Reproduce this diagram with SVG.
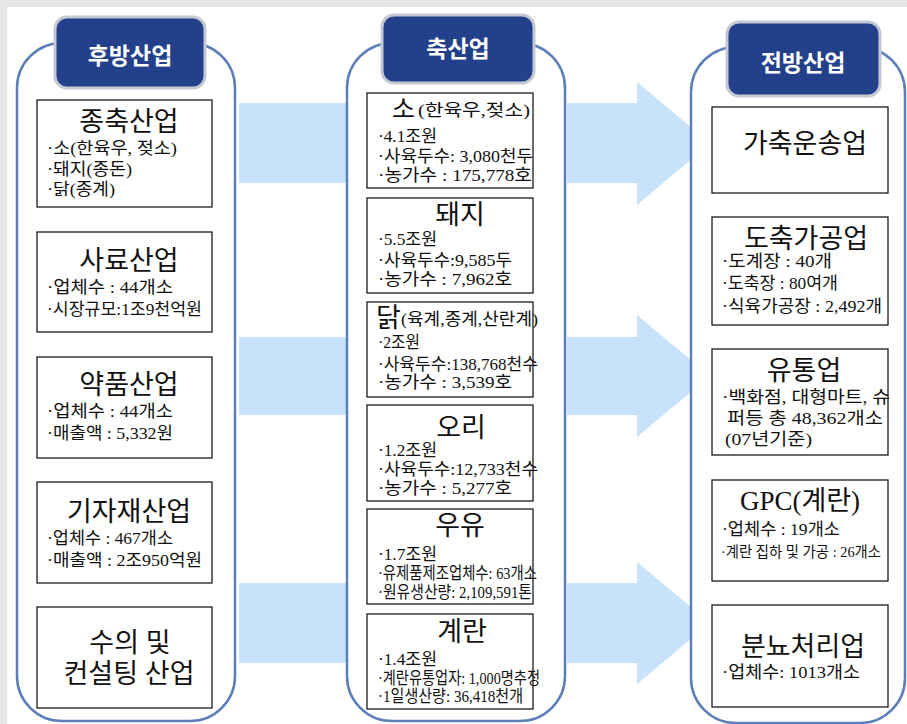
<svg xmlns="http://www.w3.org/2000/svg" width="907" height="724" viewBox="0 0 907 724">
<style>
.bg{fill:#e7e7e7}
.col{fill:#fff;stroke:#5b7fb8;stroke-width:2.5}
.hdr{fill:#23418b;stroke:#c3c8d2;stroke-width:3}
.ht{font-family:"Noto Sans CJK KR","Noto Sans",sans-serif;font-weight:bold;font-size:23px;fill:#fff;text-anchor:middle}
.box{fill:#fff;stroke:#1c1c1c;stroke-width:1.3}
.t{font-family:"Liberation Serif","Noto Sans CJK KR",serif;font-size:27px;fill:#111;text-anchor:middle}
.s{font-family:"Liberation Serif","Noto Sans CJK KR",serif;font-size:17px;fill:#111}
.arr{fill:#c9e2fb}
</style>
<rect class="bg" x="0" y="0" width="907" height="7"/>
<rect class="bg" x="0" y="0" width="7" height="724"/>

<g id="connectors">
  <polygon class="arr" points="239,103 380,103 380,82 440,143 380,205 380,183 239,183"/>
  <polygon class="arr" points="239,337 380,337 380,315 440,376 380,437 380,415 239,415"/>
  <polygon class="arr" points="239,583 380,583 380,562 440,623 380,684 380,663 239,663"/>
  <polygon class="arr" points="567,103 637,103 637,82 710,143.5 637,205 637,183 567,183"/>
  <polygon class="arr" points="567,337 637,337 637,315 710,376 637,437 637,415 567,415"/>
  <polygon class="arr" points="567,583 637,583 637,562 710,623 637,684 637,663 567,663"/>
</g>

<g id="col-back">
  <rect class="col" x="17" y="43" width="218" height="678" rx="45"/>
  <rect class="hdr" x="55" y="17" width="150" height="71" rx="12"/>
  <text class="ht" x="130" y="64">후방산업</text>
</g>
<g id="col-livestock">
  <rect class="col" x="347" y="43" width="218" height="678" rx="45"/>
  <rect class="hdr" x="382" y="15" width="152" height="68" rx="12"/>
  <text class="ht" x="458" y="57">축산업</text>
</g>
<g id="col-front">
  <rect class="col" x="691" y="47" width="214" height="676" rx="45"/>
  <rect class="hdr" x="727" y="22" width="153" height="74" rx="12"/>
  <text class="ht" x="803" y="71">전방산업</text>
</g>

<g id="b-breeding">
  <rect class="box" x="37" y="100" width="175" height="107"/>
  <text class="t" x="129" y="131">종축산업</text>
  <text class="s" x="47" y="154" textLength="130" lengthAdjust="spacingAndGlyphs">·소(한육우, 젖소)</text>
  <text class="s" x="47" y="175" textLength="85" lengthAdjust="spacingAndGlyphs">·돼지(종돈)</text>
  <text class="s" x="47" y="195" textLength="68" lengthAdjust="spacingAndGlyphs">·닭(종계)</text>
</g>
<g id="b-feed">
  <rect class="box" x="37" y="232" width="175" height="100"/>
  <text class="t" x="129" y="270">사료산업</text>
  <text class="s" x="47" y="293" textLength="126" lengthAdjust="spacingAndGlyphs">·업체수 : 44개소</text>
  <text class="s" x="47" y="315" textLength="155" lengthAdjust="spacingAndGlyphs">·시장규모:1조9천억원</text>
</g>
<g id="b-pharma">
  <rect class="box" x="37" y="357" width="175" height="101"/>
  <text class="t" x="129" y="394">약품산업</text>
  <text class="s" x="47" y="417" textLength="126" lengthAdjust="spacingAndGlyphs">·업체수 : 44개소</text>
  <text class="s" x="47" y="439" textLength="126" lengthAdjust="spacingAndGlyphs">·매출액 : 5,332원</text>
</g>
<g id="b-equipment">
  <rect class="box" x="37" y="482" width="175" height="101"/>
  <text class="t" x="129" y="521">기자재산업</text>
  <text class="s" x="47" y="544" textLength="126" lengthAdjust="spacingAndGlyphs">·업체수 : 467개소</text>
  <text class="s" x="47" y="566" textLength="155" lengthAdjust="spacingAndGlyphs">·매출액 : 2조950억원</text>
</g>
<g id="b-vet">
  <rect class="box" x="37" y="607" width="175" height="101"/>
  <text class="t" x="130" y="652">수의 및</text>
  <text class="t" x="129" y="683">컨설팅 산업</text>
</g>

<g id="m-cattle">
  <rect class="box" x="367" y="93" width="166" height="95"/>
  <text class="t" x="392" y="118" style="text-anchor:start;font-size:25px">소</text>
  <text class="s" x="418" y="116" textLength="112" lengthAdjust="spacingAndGlyphs">(한육우,젖소)</text>
  <text class="s" x="378" y="142" textLength="59" lengthAdjust="spacingAndGlyphs">·4.1조원</text>
  <text class="s" x="378" y="162" textLength="155" lengthAdjust="spacingAndGlyphs">·사육두수: 3,080천두</text>
  <text class="s" x="378" y="181" textLength="154" lengthAdjust="spacingAndGlyphs">·농가수 : 175,778호</text>
</g>
<g id="m-pig">
  <rect class="box" x="367" y="198" width="166" height="95"/>
  <text class="t" x="460" y="224">돼지</text>
  <text class="s" x="378" y="245" textLength="59" lengthAdjust="spacingAndGlyphs">·5.5조원</text>
  <text class="s" x="378" y="266" textLength="134" lengthAdjust="spacingAndGlyphs">·사육두수:9,585두</text>
  <text class="s" x="378" y="285" textLength="134" lengthAdjust="spacingAndGlyphs">·농가수 : 7,962호</text>
</g>
<g id="m-chicken">
  <rect class="box" x="367" y="302" width="166" height="95"/>
  <text class="t" x="376" y="327" style="text-anchor:start">닭</text>
  <text class="s" x="401" y="325" textLength="137" lengthAdjust="spacingAndGlyphs">(육계,종계,산란계)</text>
  <text class="s" x="378" y="348" textLength="42" lengthAdjust="spacingAndGlyphs">·2조원</text>
  <text class="s" x="378" y="370" textLength="160" lengthAdjust="spacingAndGlyphs">·사육두수:138,768천수</text>
  <text class="s" x="378" y="388" textLength="134" lengthAdjust="spacingAndGlyphs">·농가수 : 3,539호</text>
</g>
<g id="m-duck">
  <rect class="box" x="367" y="405" width="166" height="96"/>
  <text class="t" x="461" y="437">오리</text>
  <text class="s" x="378" y="456" textLength="59" lengthAdjust="spacingAndGlyphs">·1.2조원</text>
  <text class="s" x="378" y="475" textLength="160" lengthAdjust="spacingAndGlyphs">·사육두수:12,733천수</text>
  <text class="s" x="378" y="494" textLength="134" lengthAdjust="spacingAndGlyphs">·농가수 : 5,277호</text>
</g>
<g id="m-milk">
  <rect class="box" x="367" y="509" width="166" height="95"/>
  <text class="t" x="460" y="535">우유</text>
  <text class="s" x="378" y="560" textLength="59" lengthAdjust="spacingAndGlyphs">·1.7조원</text>
  <text class="s" x="378" y="579" textLength="159" lengthAdjust="spacingAndGlyphs">·유제품제조업체수: 63개소</text>
  <text class="s" x="378" y="598" textLength="154" lengthAdjust="spacingAndGlyphs">·원유생산량: 2,109,591톤</text>
</g>
<g id="m-egg">
  <rect class="box" x="367" y="614" width="166" height="95"/>
  <text class="t" x="462" y="641">계란</text>
  <text class="s" x="378" y="665" textLength="59" lengthAdjust="spacingAndGlyphs">·1.4조원</text>
  <text class="s" x="378" y="684" textLength="162" lengthAdjust="spacingAndGlyphs">·계란유통업자: 1,000명추정</text>
  <text class="s" x="378" y="702" textLength="145" lengthAdjust="spacingAndGlyphs">·1일생산량: 36,418천개</text>
</g>

<g id="f-transport">
  <rect class="box" x="712" y="107" width="176" height="86"/>
  <text class="t" x="805" y="153">가축운송업</text>
</g>
<g id="f-slaughter">
  <rect class="box" x="712" y="217" width="176" height="108"/>
  <text class="t" x="806" y="248">도축가공업</text>
  <text class="s" x="722" y="267" textLength="110" lengthAdjust="spacingAndGlyphs">·도계장 : 40개</text>
  <text class="s" x="722" y="289" textLength="116" lengthAdjust="spacingAndGlyphs">·도축장 : 80여개</text>
  <text class="s" x="722" y="312" textLength="160" lengthAdjust="spacingAndGlyphs">·식육가공장 : 2,492개</text>
</g>
<g id="f-distribution">
  <rect class="box" x="712" y="349" width="176" height="106"/>
  <text class="t" x="804" y="380">유통업</text>
  <text class="s" x="722" y="403" textLength="168" lengthAdjust="spacingAndGlyphs">·백화점, 대형마트, 슈</text>
  <text class="s" x="727" y="424" textLength="156" lengthAdjust="spacingAndGlyphs">퍼등 총 48,362개소</text>
  <text class="s" x="725" y="445" textLength="87" lengthAdjust="spacingAndGlyphs">(07년기준)</text>
</g>
<g id="f-gpc">
  <rect class="box" x="712" y="480" width="176" height="101"/>
  <text class="t" x="800" y="510">GPC(계란)</text>
  <text class="s" x="722" y="535" textLength="118" lengthAdjust="spacingAndGlyphs">·업체수 : 19개소</text>
  <text class="s" x="721" y="557" style="font-size:14.5px" textLength="160" lengthAdjust="spacingAndGlyphs">·계란 집하 및 가공 : 26개소</text>
</g>
<g id="f-manure">
  <rect class="box" x="712" y="605" width="176" height="102"/>
  <text class="t" x="803" y="656">분뇨처리업</text>
  <text class="s" x="722" y="678" textLength="138" lengthAdjust="spacingAndGlyphs">·업체수: 1013개소</text>
</g>
</svg>
